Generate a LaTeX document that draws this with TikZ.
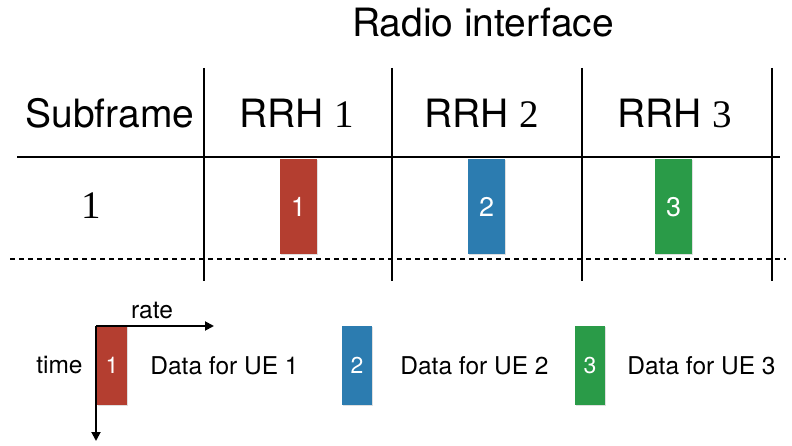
\documentclass[tikz,border=0pt]{standalone}
\usepackage{fontspec}
\setmainfont{TeX Gyre Heros}
\newfontfamily\numfont{Liberation Serif}
\usepackage{xcolor}
\usetikzlibrary{arrows.meta, positioning, shadows}

\definecolor{uered}{RGB}{180,62,48}
\definecolor{ueblue}{RGB}{44,124,176}
\definecolor{uegreen}{RGB}{42,155,72}

\begin{document}
\begin{tikzpicture}[
    x=1pt, y=-1pt,
    grid/.style = {line width=2.4pt},
    gridcut/.style = {line width=1.8pt, dash pattern=on 5pt off 4pt},
    head/.style = {anchor=base, inner sep=0pt, font=\fontsize{39}{44}\selectfont},
    block/.style = {minimum width=37pt, minimum height=95pt, inner sep=0pt, text=white, font=\fontsize{27}{30}\selectfont, drop shadow={shadow xshift=1pt, shadow yshift=-1pt, opacity=0.25}},
    key/.style = {minimum width=30pt, minimum height=79pt, inner sep=0pt, text=white, font=\fontsize{23}{26}\selectfont, drop shadow={shadow xshift=1pt, shadow yshift=-1pt, opacity=0.25}},
    keytext/.style = {inner sep=0pt, font=\fontsize{24.5}{28}\selectfont},
    axis/.style = {line width=1.9pt, -{Triangle[length=9pt, width=9pt]}}
]
    \useasboundingbox (0,0) rectangle (792,446);

    % Title and header row
    \node (title) [head] at (483,37) {Radio interface};
    \node (sub) [head] at (110,128) {Subframe};
    \node (rrh1) [head] at (297,128) {RRH {\numfont 1}};
    \node (rrh2) [head] at (482,128) {RRH {\numfont 2}};
    \node (rrh3) [head] at (675,128) {RRH {\numfont 3}};
    \node (sf1) [head] at (91,219) {\numfont 1};

    % Table lines
    \foreach \x in {204,392,582,772}
        \draw [grid] (\x,68) -- (\x,281);
    \draw [grid] (17,157) -- (780,157);
    \draw [gridcut] (10,259) -- (786,259);

    % Data blocks
    \node (b1) [block, fill=uered] at (298.5,207) {1};
    \node (b2) [block, fill=ueblue] at (486.5,206.5) {2};
    \node (b3) [block, fill=uegreen] at (673.5,207) {3};

    % Legend
    \node (k1) [key, fill=uered] at (112,365.5) {1};
    \node (k2) [key, fill=ueblue] at (357,365.5) {2};
    \node (k3) [key, fill=uegreen] at (590,365.5) {3};
    \node (time) [keytext, left=14pt of k1] {time};
    \node (d1) [keytext, right=23pt of k1] {Data for UE 1};
    \node (d2) [keytext, right=28pt of k2] {Data for UE 2};
    \node (d3) [keytext, right=22pt of k3] {Data for UE 3};

    \coordinate (o) at (96,326);
    \coordinate (rateend) at (214,326);
    \coordinate (timeend) at (96,441);
    \draw [axis] (o) -- (rateend);
    \draw [axis] (o) -- (timeend);
    \node (rate) [keytext, anchor=base] at (152,318) {rate};

\end{tikzpicture}
\end{document}
